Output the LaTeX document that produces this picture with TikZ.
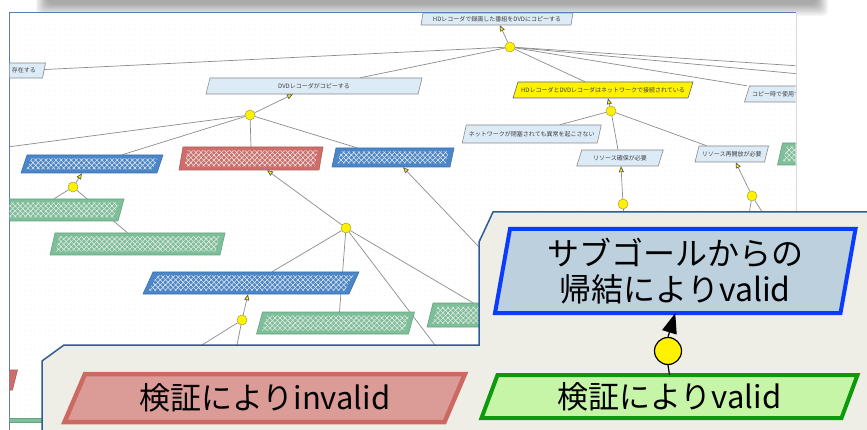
\documentclass[tikz,border=0pt]{standalone}
\usepackage{fontspec}
\setmainfont{Noto Sans CJK JP}
\usetikzlibrary{arrows.meta,patterns,patterns.meta,calc}
\definecolor{lbfill}{HTML}{DDEBF7}
\definecolor{nodeborder}{HTML}{8A8A8A}
\definecolor{bluefill}{HTML}{4A86C8}
\definecolor{redfill}{HTML}{CD6E6A}
\definecolor{greenfill}{HTML}{7DBF98}
\definecolor{edgegray}{HTML}{8C8C8C}
\definecolor{txtgray}{HTML}{404040}
\definecolor{scrborder}{HTML}{5B7DB1}
\definecolor{callfill}{HTML}{EEEEE7}
\definecolor{callborder}{HTML}{2E5C94}
\definecolor{bbfill}{HTML}{BDD0DE}
\definecolor{bbdraw}{HTML}{0A3CFF}
\definecolor{gbfill}{HTML}{C6F5A8}
\definecolor{gbdraw}{HTML}{0C9A0C}
\definecolor{rbfill}{HTML}{DB9C97}
\definecolor{rbdraw}{HTML}{CC6A62}
\pgfdeclarelayer{bg}
\pgfdeclarelayer{edges}
\pgfsetlayers{bg,edges,main}
% name, cx, cy, w, h, skew, shape style, text, node style
\newcommand\pgram[9]{%
  \path[#7] ({#2-#4/2-#6/2},{#3+#5/2}) -- ({#2+#4/2-#6/2},{#3+#5/2}) -- ({#2+#4/2+#6/2},{#3-#5/2}) -- ({#2-#4/2+#6/2},{#3-#5/2}) -- cycle;
  \node[inner sep=0pt, minimum width=#4pt, minimum height=#5pt, #9] (#1) at (#2,#3) {#8};
}
% cx, cy, w, h, skew : white hatch inside a coloured node
\newcommand\hatchin[5]{%
  \foreach \hang in {45,-45} {
  \path[pattern={Lines[angle=\hang,distance=3.6pt,line width=0.55pt]}, pattern color=white!92!black] ({#1-(#3-10)/2-(#5-1)/2},{#2+(#4-7)/2}) -- ({#1+(#3-10)/2-(#5-1)/2},{#2+(#4-7)/2}) -- ({#1+(#3-10)/2+(#5-1)/2},{#2-(#4-7)/2}) -- ({#1-(#3-10)/2+(#5-1)/2},{#2-(#4-7)/2}) -- cycle;
  }
}
\tikzset{
  lbshape/.style={fill=lbfill, draw=nodeborder, line width=0.6pt},
  blueshape/.style={fill=bluefill, draw=bluefill!85!black, line width=0.6pt},
  redshape/.style={fill=redfill, draw=redfill!85!black, line width=0.6pt},
  greenshape/.style={fill=greenfill, draw=greenfill!85!black, line width=0.6pt},
  yelshape/.style={fill=yellow, draw=black!60, line width=0.6pt},
  smalltext/.style={font=\fontsize{6}{7}\selectfont, text=txtgray},
  bigtext/.style={font=\fontsize{31}{37}\selectfont, text=black, align=center},
  bigtextb/.style={font=\fontsize{32}{36}\selectfont, text=black, align=center},
  andnode/.style={circle, minimum size=10pt, inner sep=0pt, fill=yellow, draw=yellow!60!black, line width=0.5pt},
  bgedge/.style={draw=edgegray, line width=0.7pt},
  bgarr/.style={bgedge, -{Triangle[length=6pt,width=5pt,fill=yellow,color=black!65]}},
}
\begin{document}
\begin{tikzpicture}[x=1pt,y=-1pt]
\useasboundingbox (0,0) rectangle (867,430);

% ---------- background: top shadow bar and screenshot area ----------
\begin{pgfonlayer}{bg}
  \foreach \i in {0,...,9} {
    \fill[black, opacity=0.04, rounded corners=5pt] ({36+\i*1.2},-10) rectangle ({828-\i*1.2},{16-\i*1.3});
  }
  \fill[white] (9,13) rectangle (796,440);
  \fill[pattern={Dots[distance=5pt,radius=0.45pt]}, pattern color=black!12] (9,13) rectangle (796,440);
  \draw[black!15, line width=0.8pt] (796,13) -- (796,440);
  \draw[scrborder, line width=1pt] (9,440) -- (9,13) -- (796,13);
\end{pgfonlayer}

% ---------- background goal tree ----------
\begin{scope}
  \clip (9.5,13.5) rectangle (795.5,440);
  \pgram{T}{497}{19}{150}{12}{2}{lbshape}{HDレコーダで録画した番組をDVDにコピーする}{smalltext}
  \pgram{S}{24}{70.5}{40}{15}{3}{lbshape}{存在する}{smalltext}
  \pgram{D}{314}{86}{212}{16}{4}{lbshape}{DVDレコーダがコピーする}{smalltext}
  \pgram{Y}{603}{90}{175}{16}{5}{yelshape}{HDレコーダとDVDレコーダはネットワークで接続されている}{smalltext}
  \pgram{K}{779}{94}{64}{16}{5}{lbshape}{コピー時で使用する}{smalltext}
  \pgram{N1}{531.75}{134}{135}{18}{4}{lbshape}{ネットワークが閉塞されても異常を起こさない}{smalltext}
  \pgram{N2}{620}{158}{81.5}{16}{5}{lbshape}{リソース確保が必要}{smalltext}
  \pgram{N3}{731.75}{154}{69.5}{16}{4}{lbshape}{リソース再開放が必要}{smalltext}

  \pgram{B1}{92}{164}{136}{18}{6}{blueshape}{}{}
  \hatchin{92}{164}{136}{18}{6}
  \pgram{R1}{251}{158.5}{140}{23}{4}{redshape}{}{}
  \hatchin{251}{158.5}{140}{23}{4}
  \pgram{B2}{393}{157.5}{118}{19}{4}{blueshape}{}{}
  \hatchin{393}{157.5}{118}{19}{4}
  \pgram{G1}{54}{210}{134}{22}{6}{greenshape}{}{}
  \hatchin{54}{210}{134}{22}{6}
  \pgram{G2}{137.5}{244}{170}{22}{5}{greenshape}{}{}
  \hatchin{137.5}{244}{170}{22}{5}
  \pgram{B3}{251}{283}{206}{22}{10}{blueshape}{}{}
  \hatchin{251}{283}{206}{22}{10}
  \pgram{G3}{335.5}{323}{152}{22}{6}{greenshape}{}{}
  \hatchin{335.5}{323}{152}{22}{6}
  \pgram{G4}{465}{315}{70}{24}{6}{greenshape}{}{}
  \hatchin{465}{315}{70}{24}{6}
  \pgram{G5}{805}{154}{50}{22}{5}{greenshape}{}{}
  \hatchin{805}{154}{50}{22}{5}
  \pgram{R2}{-30}{380}{90}{20}{5}{redshape}{}{}
  \pgram{G6}{0}{420}{84}{4}{0}{greenshape}{}{}

  \node[andnode] (C0) at (510,47) {};
  \node[andnode] (C1) at (250,115) {};
  \node[andnode] (C2) at (73,187) {};
  \node[andnode] (C3) at (346,228) {};
  \node[andnode] (C4) at (242,320) {};
  \node[andnode] (C5) at (611,111) {};
  \node[andnode] (C6) at (623,204) {};
  \node[andnode] (C7) at (752,196) {};

  \coordinate (e1) at (800,66);
  \coordinate (e2) at (800,74);
  \coordinate (offL) at (0,148);
  \coordinate (offD1) at (460,378);
  \coordinate (offC4a) at (170,365);
  \coordinate (offC4b) at (232,370);
  \coordinate (offB2) at (520,290);
  \coordinate (offC6) at (623,240);
  \coordinate (offC7a) at (745,240);
  \coordinate (offC7b) at (780,240);
\end{scope}

\begin{pgfonlayer}{edges}
\begin{scope}
  \clip (9.5,13.5) rectangle (795.5,440);
  \draw[bgarr] (C0) -- (T);
  \draw[bgedge] (C0) -- (S);
  \draw[bgedge] (C0) -- ([xshift=46pt]D.north);
  \draw[bgedge] (C0) -- ([xshift=-18pt]Y.north);
  \draw[bgedge] (C0) -- (K.north west);
  \draw[bgedge] (C0) -- (e1);
  \draw[bgedge] (C0) -- (e2);
  \draw[bgarr] (C1) -- ([xshift=-21pt]D.south);
  \draw[bgedge] (C1) -- (offL);
  \draw[bgedge] (C1) -- ([xshift=30pt]B1.north);
  \draw[bgedge] (C1) -- (R1.north);
  \draw[bgedge] (C1) -- ([xshift=-36pt]B2.north);
  \draw[bgarr] (C2) -- ([xshift=-10pt]B1.south);
  \draw[bgedge] (C2) -- (G1.north);
  \draw[bgedge] (C2) -- ([xshift=-10pt]G2.north);
  \draw[bgarr] (C3) -- ([xshift=16pt]R1.south);
  \draw[bgedge] (C3) -- ([xshift=21pt]B3.north);
  \draw[bgedge] (C3) -- ([xshift=4pt]G3.north);
  \draw[bgedge] (C3) -- (offD1);
  \draw[bgedge] (C3) -- ([xshift=8pt]G4.north);
  \draw[bgarr] (C4) -- ([xshift=-3pt]B3.south);
  \draw[bgedge] (C4) -- (offC4a);
  \draw[bgedge] (C4) -- (offC4b);
  \draw[bgarr] (offB2) -- ([xshift=10pt]B2.south);
  \draw[bgarr] (C5) -- ([xshift=5pt]Y.south);
  \draw[bgedge] (C5) -- ([xshift=28pt]N1.north);
  \draw[bgedge] (C5) -- ([xshift=-2pt]N2.north);
  \draw[bgedge] (C5) -- ([xshift=-25pt]N3.north);
  \draw[bgarr] (C6) -- ([xshift=1pt]N2.south);
  \draw[bgedge] (C6) -- (offC6);
  \draw[bgarr] (C7) -- ([xshift=4pt]N3.south);
  \draw[bgedge] (C7) -- (offC7a);
  \draw[bgedge] (C7) -- (offC7b);
\end{scope}
\end{pgfonlayer}

% ---------- callout (legend) ----------
\path[fill=callfill, draw=callborder, line width=1.5pt]
  (42,440) -- (42,361) -- (64,345) -- (479,345) -- (479,242) -- (493,212) -- (880,212) -- (880,440) -- cycle;

\pgram{BB}{675.25}{271}{345.5}{84}{15}{fill=bbfill, draw=bbdraw, line width=4pt}{サブゴールからの\\帰結によりvalid}{bigtextb}
\pgram{GB}{669.5}{396.5}{360}{43}{16}{fill=gbfill, draw=gbdraw, line width=4pt}{検証によりvalid}{bigtext}
\pgram{RB}{264.75}{398}{380}{48}{20.5}{fill=rbfill, draw=rbdraw, line width=4.5pt}{検証によりinvalid}{bigtext}

\node[circle, minimum size=27pt, inner sep=0pt, fill=yellow, draw=black, line width=1.2pt] (CC) at (668,351) {};
\draw[black, line width=1.2pt, -{Triangle[length=20pt,width=15pt]}] (CC.north) -- (BB.south);
\draw[black, line width=1.2pt] (CC.south) -- (GB.north);
\end{tikzpicture}
\end{document}
